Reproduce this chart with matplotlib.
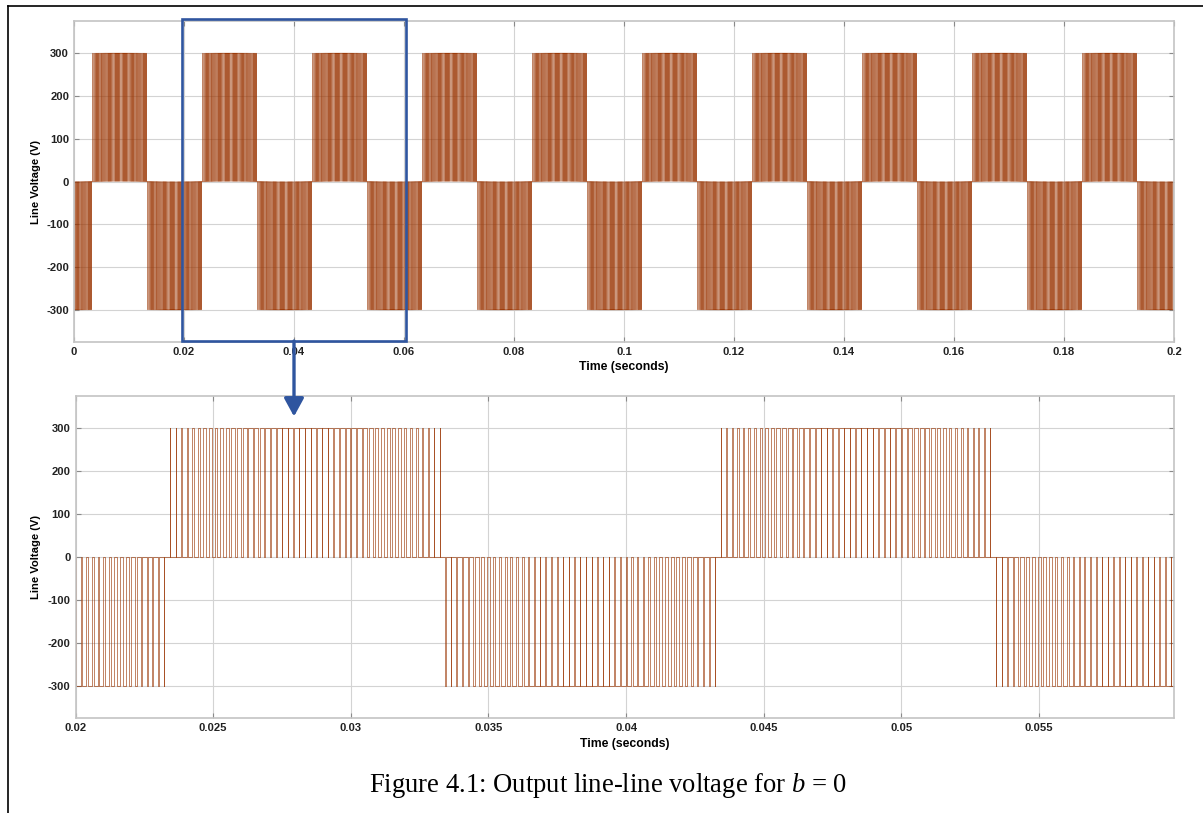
import numpy as np
import matplotlib
matplotlib.use("Agg")
import matplotlib.pyplot as plt
import matplotlib.transforms as mtransforms
from matplotlib.lines import Line2D
from matplotlib.patches import Rectangle, FancyArrowPatch, ArrowStyle

plt.rcParams['path.simplify'] = False
plt.rcParams['agg.path.chunksize'] = 0
plt.rcParams['font.family'] = ['Liberation Sans', 'DejaVu Sans']
plt.rcParams['mathtext.fontset'] = 'custom'
plt.rcParams['mathtext.rm'] = 'Liberation Serif'
plt.rcParams['mathtext.it'] = 'Liberation Serif:italic'

# --- inverter / simulation settings -------------------------------------
fundamental_hz = 50.0        # output fundamental
dc_link_v = 300.0            # pulse height of the line-line voltage
carrier_hz = 4800.0          # pulse repetition rate
line_phase_deg = -60.0       # phase of v_ab relative to the time origin
peak_duty = 0.95             # pulse duty at the crest of the reference
dead_level = 0.03            # no pulses while |reference| is below this
t_stop = 0.2                 # simulated time span (s)

# --- axes settings --------------------------------------------------------
zoom_window = [0.02, 0.0599]
full_ticks = [0, 0.02, 0.04, 0.06, 0.08, 0.1, 0.12, 0.14, 0.16, 0.18, 0.2]
full_tick_labels = ['0', '0.02', '0.04', '0.06', '0.08', '0.1', '0.12',
                    '0.14', '0.16', '0.18', '0.2']
zoom_ticks = [0.02, 0.025, 0.03, 0.035, 0.04, 0.045, 0.05, 0.055]
zoom_tick_labels = ['0.02', '0.025', '0.03', '0.035', '0.04', '0.045',
                    '0.05', '0.055']
volt_ticks = [-300, -200, -100, 0, 100, 200, 300]
volt_tick_labels = ['-300', '-200', '-100', '0', '100', '200', '300']
volt_lim = [-375, 375]

trace_color = '#993300'
box_color = '#2f559f'
tick_font = 8.1


def line_voltage():
    """Step waveform of the PWM line-line voltage."""
    tc = 1.0 / carrier_hz
    centers = (np.arange(int(round(t_stop * carrier_hz))) + 0.5) * tc
    ref = np.sin(2 * np.pi * fundamental_hz * centers
                 + np.deg2rad(line_phase_deg))
    t = [0.0]
    v = [0.0]
    for c, r in zip(centers, ref):
        if abs(r) < dead_level:
            continue
        half = 0.5 * peak_duty * abs(r) * tc
        level = np.sign(r) * dc_link_v
        t += [c - half, c - half, c + half, c + half]
        v += [0.0, level, level, 0.0]
    t.append(t_stop)
    v.append(0.0)
    return np.array(t), np.array(v)


time, volts = line_voltage()

W, H = 1203, 813
fig = plt.figure(figsize=(W / 100, H / 100), dpi=100)

ax_top = fig.add_axes([74 / W, 1 - 342 / H, 1100 / W, 321 / H])
ax_bot = fig.add_axes([75.5 / W, 1 - 718 / H, 1098.5 / W, 322 / H])

ax_top.plot(time, volts, color=trace_color, lw=0.29)
ax_bot.plot(time, volts, color=trace_color, lw=0.5, alpha=0.85)

for ax in (ax_top, ax_bot):
    ax.set_ylim(volt_lim)
    ax.set_yticks(volt_ticks)
    ax.set_yticklabels(volt_tick_labels)
    ax.grid(True, color='#d3d3d3', lw=0.8)
    ax.set_axisbelow(True)
    ax.tick_params(direction='in', length=3.5, width=0.8, color='#8a8a8a',
                   top=True, right=True, labelsize=tick_font,
                   labelcolor='#222222', pad=3.5)
    for sp in ax.spines.values():
        sp.set_color('#c4c4c4')
        sp.set_linewidth(1.2)
    for lab in ax.get_xticklabels() + ax.get_yticklabels():
        lab.set_fontweight('bold')
    ax.set_ylabel('Line Voltage (V)', fontsize=8.1, fontweight='bold')
    ax.set_xlabel('Time (seconds)', fontsize=8.8, fontweight='bold')
    ax.xaxis.label.set_va('center')
    ax.yaxis.label.set_va('center')

ax_top.set_xlim(0, t_stop)
ax_top.set_xticks(full_ticks)
ax_top.set_xticklabels(full_tick_labels, fontweight='bold')
ax_top.yaxis.set_label_coords(-38 / 1100, 0.5)
ax_top.xaxis.set_label_coords(0.5, -25 / 321)

ax_bot.set_xlim(zoom_window)
ax_bot.set_xticks(zoom_ticks)
ax_bot.set_xticklabels(zoom_tick_labels, fontweight='bold')
ax_bot.yaxis.set_label_coords(-39.5 / 1098.5, 0.5)
ax_bot.xaxis.set_label_coords(0.5, -26 / 322)

# zoom window marker on the full-range plot, with an arrow to the detail
blend = mtransforms.blended_transform_factory(ax_top.transData,
                                              ax_top.transAxes)
box_left = zoom_window[0] - 0.0003
box_right = zoom_window[1] + 0.0004
ax_top.add_patch(Rectangle((box_left, 0.003), box_right - box_left, 1.003,
                           transform=blend, fill=False, ec=box_color,
                           lw=1.9, clip_on=False, zorder=5))
mid = 0.5 * (box_left + box_right)
arrow = FancyArrowPatch((mid, 0.003), (mid, -0.232), transform=blend,
                        arrowstyle=ArrowStyle('-|>', head_length=0.55,
                                              head_width=0.3),
                        mutation_scale=20, lw=2.4, color=box_color,
                        shrinkA=0, shrinkB=0, zorder=10)
fig.add_artist(arrow)

# page frame
fig.add_artist(Line2D([8 / W, 1], [1 - 6.5 / H] * 2, transform=fig.transFigure,
                      color='black', lw=1.2))
fig.add_artist(Line2D([8 / W] * 2, [0, 1 - 6.5 / H], transform=fig.transFigure,
                      color='black', lw=1.2))

fig.text(608 / W, 1 - 785 / H, 'Figure 4.1: Output line-line voltage for $b$ = 0',
         family='Liberation Serif', fontsize=19.2, ha='center', va='center')

fig.savefig('out.png', dpi=100)
